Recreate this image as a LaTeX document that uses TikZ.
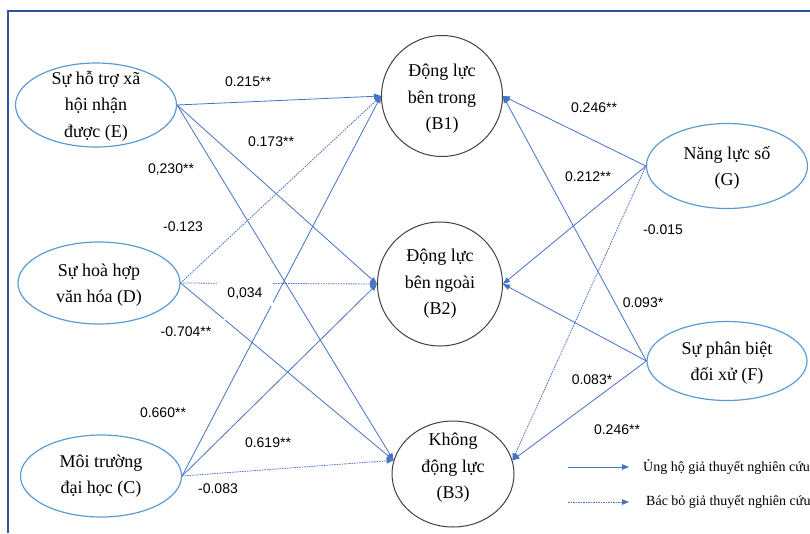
\documentclass[tikz,border=0pt]{standalone}
\usepackage{fontspec}
\setmainfont{Liberation Serif}
\newfontfamily\nodefont{Liberation Serif}
\newfontfamily\labfont{Liberation Sans}
\usetikzlibrary{arrows.meta,shapes.geometric}
\definecolor{conn}{HTML}{4472C4}
\definecolor{ellc}{HTML}{5B9BD5}
\definecolor{frm}{HTML}{2F5597}
\definecolor{circ}{HTML}{404040}
\begin{document}
\begin{tikzpicture}[x=1pt,y=-1pt,
  ell/.style={draw=ellc,line width=1.2pt,ellipse,inner sep=0pt},
  crc/.style={draw=circ,line width=1pt,ellipse,inner sep=0pt},
  txt/.style={align=center,font=\nodefont\fontsize{18}{26.5}\selectfont,inner sep=0pt},
  lab/.style={font=\labfont\fontsize{14}{16}\selectfont,inner sep=1pt},
  cover/.style={fill=white},
  supp/.style={draw=conn,line width=0.8pt,-{Triangle[length=7pt,width=5.5pt]}},
  rejj/.style={supp,dash pattern=on 1.5pt off 1pt},
  leg/.style={font=\nodefont\fontsize{14}{16}\selectfont,anchor=west,inner sep=0pt}
]
\useasboundingbox (0,0) rectangle (810,533);
\draw[frm,line width=1.5pt] (8,533) -- (8,11) -- (810,11);

% left ellipses
\node[ell,minimum width=161pt,minimum height=84pt] (E) at (96,105) {};
\node[ell,minimum width=162pt,minimum height=82pt] (D) at (99,283) {};
\node[ell,minimum width=161pt,minimum height=82pt] (C) at (101,476) {};
% right ellipses
\node[ell,minimum width=161pt,minimum height=85pt] (G) at (727,166) {};
\node[ell,minimum width=160pt,minimum height=79pt] (F) at (727,361) {};
% circles
\node[crc,minimum width=121pt,minimum height=121pt] (B1) at (442,96) {};
\node[crc,minimum width=125pt,minimum height=124pt] (B2) at (440,284) {};
\node[crc,minimum width=122pt,minimum height=106pt] (B3) at (453,474) {};

% texts
\node[txt] (Et) at (96,106) {Sự hỗ trợ xã\\hội nhận\\được (E)};
\node[txt] (Dt) at (99,285) {Sự hoà hợp\\văn hóa (D)};
\node[txt] (Ct) at (101,476) {Môi trường\\đại học (C)};
\node[txt] (Gt) at (727,168) {Năng lực số\\(G)};
\node[txt] (Ft) at (727,363) {Sự phân biệt\\đối xử (F)};
\node[txt] (B1t) at (442,99) {Động lực\\bên trong\\(B1)};
\node[txt] (B2t) at (440,284) {Động lực\\bên ngoài\\(B2)};
\node[txt] (B3t) at (453,468) {Không\\động lực\\(B3)};

% connectors
\draw[supp] (E.east) -- (B1.west);
\draw[supp] (E.east) -- (B2.west);
\draw[supp] (E.east) -- (B3.167);
\draw[rejj] (D.east) -- (B1.west);
\draw[rejj] (D.east) -- (B2.west);
\draw[supp] (D.east) -- (B3.167);
\draw[supp] (C.east) -- (B1.west);
\draw[supp] (C.east) -- (B2.west);
\draw[rejj] (C.east) -- (B3.167);
\draw[supp] (G.west) -- (B1.east);
\draw[supp] (G.west) -- (B2.east);
\draw[rejj] (G.west) -- (B3.13);
\draw[supp] (F.west) -- (B1.east);
\draw[supp] (F.west) -- (B2.east);
\draw[supp] (F.west) -- (B3.13);

% labels
\node[lab] (l1) at (248,82) {0.215**};
\node[lab] (l2) at (271,142) {0.173**};
\node[lab,cover,inner xsep=14pt,inner ysep=5pt] (l3) at (171,170) {0,230**};
\node[lab] (l4) at (183,227) {-0.123};
\node[lab,cover,inner xsep=10pt,inner ysep=6pt] (l5) at (245,294) {0,034};
\node[lab,cover,inner xsep=14pt,inner ysep=8pt] (l6) at (186,332) {-0.704**};
\node[lab] (l7) at (163,413) {0.660**};
\node[lab] (l8) at (268,443) {0.619**};
\node[lab] (l9) at (218,489) {-0.083};
\node[lab] (r1) at (594,108) {0.246**};
\node[lab] (r2) at (588,177) {0.212**};
\node[lab] (r3) at (663,230) {-0.015};
\node[lab] (r4) at (643,303) {0.093*};
\node[lab] (r5) at (592,380) {0.083*};
\node[lab] (r6) at (617,430) {0.246**};

% legend
\coordinate (la) at (568,467);
\coordinate (lb) at (629,467);
\coordinate (lc) at (568,502);
\coordinate (ld) at (629,502);
\draw[supp] (la) -- (lb);
\draw[rejj] (lc) -- (ld);
\node[leg] (lt1) at (643,467) {Ủng hộ giả thuyết nghiên cứu};
\node[leg] (lt2) at (646,502) {Bác bỏ giả thuyết nghiên cứu};
\end{tikzpicture}
\end{document}
